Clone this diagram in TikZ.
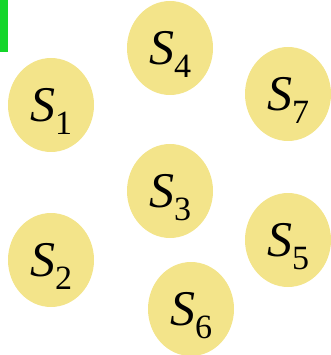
\documentclass[tikz,border=0pt]{standalone}
\usepackage{fontspec}
\newfontfamily\setfont[Extension=.ttf,UprightFont=*-Regular,ItalicFont=*-Italic]{LiberationSerif}
\usetikzlibrary{shapes.geometric}
\definecolor{setyellow}{HTML}{F3E48A}
\definecolor{markgreen}{HTML}{14D62A}
\newcommand{\Sname}[1]{{\itshape S}\raisebox{-13pt}{\fontsize{34}{34}\selectfont #1}}

\begin{document}
\begin{tikzpicture}[x=1pt,y=-1pt,
  setnode/.style={ellipse,fill=setyellow,minimum width=86pt,minimum height=94pt,
    inner sep=0pt,text depth=0pt,font=\setfont\fontsize{50}{50}\selectfont}]
\useasboundingbox (0,0) rectangle (330,355);
\fill[markgreen] (0,0) rectangle (8,52);
\node[setnode] (s1) at (51,105) {\Sname{1}};
\node[setnode] (s4) at (170,48) {\Sname{4}};
\node[setnode] (s7) at (288,94) {\Sname{7}};
\node[setnode] (s3) at (170,191) {\Sname{3}};
\node[setnode] (s2) at (51,260) {\Sname{2}};
\node[setnode] (s5) at (288,240) {\Sname{5}};
\node[setnode] (s6) at (191,309) {\Sname{6}};
\end{tikzpicture}
\end{document}
